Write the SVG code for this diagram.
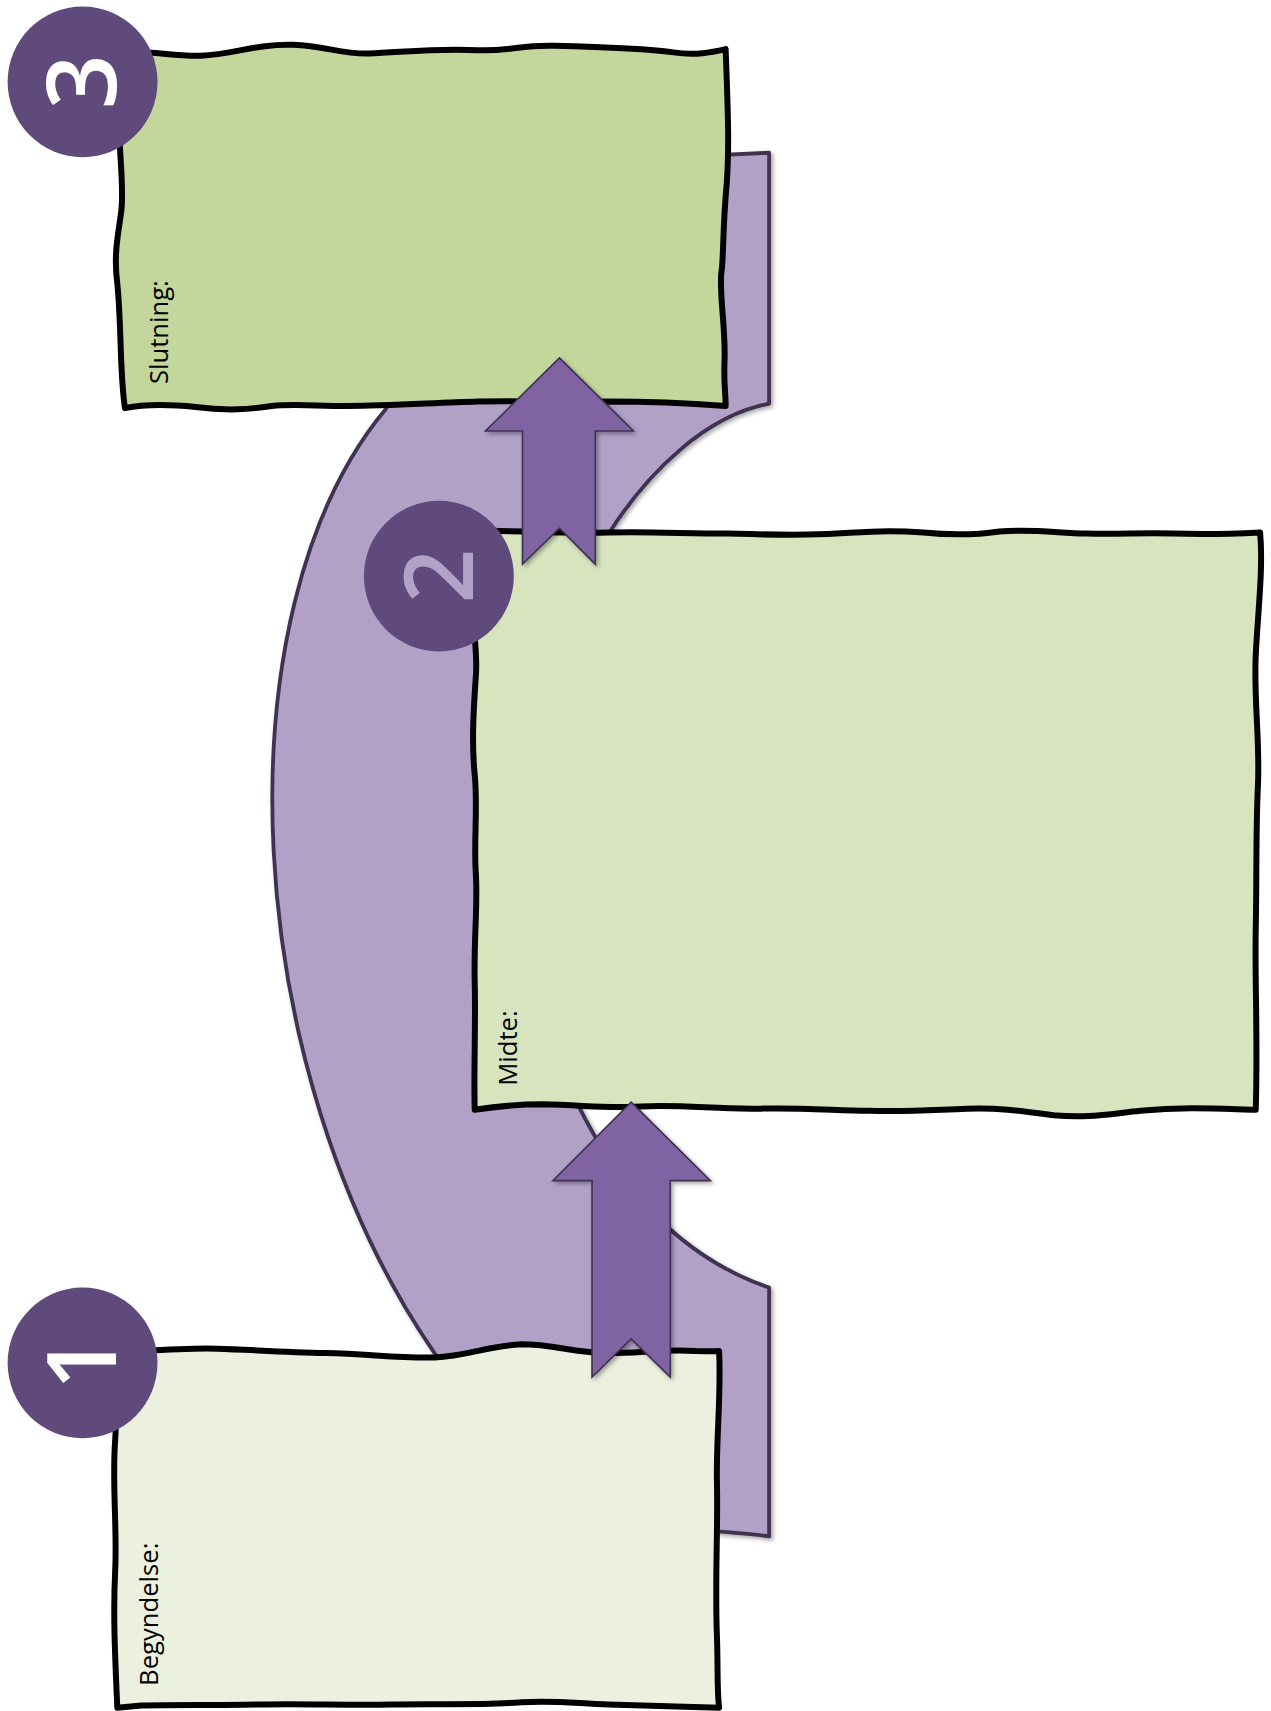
<svg xmlns="http://www.w3.org/2000/svg" width="1271" height="1711" viewBox="0 0 1271 1711">
<defs>
<style>
.box{stroke:#000;stroke-width:5.5;stroke-linejoin:round}
.band{fill:#B2A1C7;stroke:#3F3151;stroke-width:3.5;stroke-linejoin:round}
.arrow{fill:#8064A2;stroke:#3F3151;stroke-width:1.5;stroke-linejoin:miter}
.badge{fill:#604A7B}
.num{font-family:"Open Sans","DejaVu Sans",sans-serif;font-weight:600;font-size:88px;text-anchor:middle}
.lbl{font-family:"Open Sans","DejaVu Sans",sans-serif;font-size:23.5px;fill:#000}
</style>
<filter id="sh" x="-20%" y="-20%" width="140%" height="140%">
<feDropShadow dx="2" dy="2" stdDeviation="2" flood-color="#000" flood-opacity="0.35"/>
</filter>
</defs>
<rect width="1271" height="1711" fill="#fff"/>
<g transform="scale(1.0863,1.0912)">
<g id="connectors">
<path id="band" class="band" filter="url(#sh)" d="M640,143 L708,140 L708,370 C600,390 480,560 480,780 C480,950 560,1130 708,1180 L708,1408 C680,1404 640,1402 600,1400 L430,1290 L400,1240 C220,980 200,560 355,375 L380,330 Z"/>
</g>
<g id="node-3">
<path class="box" fill="#C3D69B" d="M108,48 C140,46 160,52 185,51 C215,50 235,40 270,41 C300,42 315,50 340,49 C370,48 400,44 440,46 C470,47 480,41 510,42 C550,43 590,44 620,48 C640,51 655,48 668,45 C670,100 672,140 668,180 C665,220 666,240 664,250 C662,270 668,300 667,330 C666,350 668,360 668,372 C640,370 600,368 560,368 C520,369 480,367 440,368 C400,369 360,372 320,372 C290,372 270,370 250,372 C230,375 210,377 180,373 C150,370 130,371 115,374 C110,340 112,300 108,260 C104,230 110,210 112,190 C114,160 108,130 110,100 C111,80 108,60 108,48 Z"/>
<text class="lbl" transform="translate(155,352) rotate(-90)">Slutning:</text>
</g>
<g id="node-2">
<path class="box" fill="#D7E4BD" d="M440,486 C480,487 520,489 560,488 C600,487 630,489 670,489 C710,490 740,491 770,489 C800,487 820,486 850,488 C880,491 900,490 920,487 C950,485 970,488 1000,489 C1030,490 1050,488 1080,489 C1110,490 1140,489 1160,488 C1163,520 1158,560 1156,600 C1154,640 1160,680 1158,720 C1156,760 1157,800 1156,850 C1155,900 1158,950 1156,1017 C1120,1016 1090,1014 1050,1018 C1020,1021 1000,1025 970,1022 C940,1018 920,1015 890,1016 C860,1017 840,1019 800,1018 C760,1017 730,1015 700,1016 C660,1017 630,1012 590,1014 C560,1016 540,1013 500,1012 C470,1012 450,1015 437,1017 C436,980 438,940 437,900 C436,860 440,830 438,800 C436,770 440,740 437,710 C434,680 436,650 438,620 C440,600 435,580 437,560 C438,530 439,505 440,486 Z"/>
<text class="lbl" transform="translate(476,995) rotate(-90)">Midte:</text>
</g>
<g id="node-1">
<path class="box" fill="#EBF1DE" d="M105,1240 C140,1238 170,1235 200,1236 C230,1237 260,1239 300,1240 C340,1241 370,1245 400,1244 C430,1243 450,1233 480,1232 C510,1232 530,1240 560,1240 C590,1240 610,1236 640,1238 C650,1238 655,1239 662,1238 C664,1280 659,1320 660,1360 C661,1400 658,1450 660,1500 C661,1530 660,1550 662,1565 C620,1564 590,1563 560,1562 C530,1561 510,1558 480,1560 C440,1563 400,1561 360,1562 C320,1563 280,1561 240,1562 C200,1563 160,1562 130,1563 L108,1565 C106,1520 104,1480 106,1440 C108,1400 103,1360 106,1320 C108,1290 106,1260 105,1240 Z"/>
<text class="lbl" transform="translate(145,1545) rotate(-90)">Begyndelse:</text>
</g>
<g id="arrows">
<polygon id="arrow-1-2" class="arrow" filter="url(#sh)" points="581,1010 654,1082 617,1082 617,1262 581,1227 545,1262 545,1082 509,1082"/>
<polygon id="arrow-2-3" class="arrow" filter="url(#sh)" points="515,328 583,395 548,395 548,517 515,484 481,517 481,395 447,395"/>
</g>
<g id="badge-3">
<circle class="badge" cx="76" cy="75" r="69"/>
<text class="num" fill="#fff" transform="translate(76,75) rotate(-90)" dy="31">3</text>
</g>
<g id="badge-2">
<circle class="badge" cx="404" cy="528" r="69"/>
<text class="num" fill="#B3A2C7" transform="translate(404,528) rotate(-90)" dy="31">2</text>
</g>
<g id="badge-1">
<circle class="badge" cx="76" cy="1249" r="69"/>
<text class="num" fill="#fff" transform="translate(76,1249) rotate(-90)" dy="31">1</text>
</g>
</g>
</svg>
